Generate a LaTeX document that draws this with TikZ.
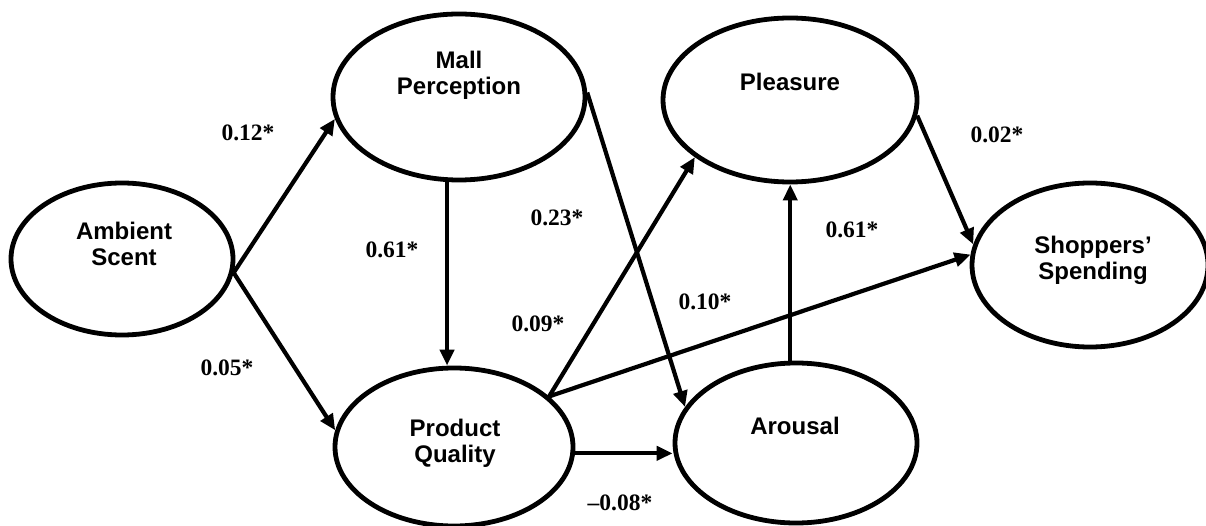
\documentclass[tikz,border=0pt]{standalone}
\usepackage{fontspec}
\setmainfont{Liberation Serif}
\newfontfamily\sansfont{Liberation Sans}
\usetikzlibrary{shapes.geometric,arrows.meta}

\begin{document}
\begin{tikzpicture}[
  x=1pt, y=-1pt,
  construct/.style={ellipse, draw, line width=4.8pt, inner sep=0pt},
  ctext/.style={font=\sansfont\bfseries\fontsize{24}{26}\selectfont, align=center},
  effect/.style={line width=4.2pt, -{Triangle[length=16pt,width=14pt]}},
  coef/.style={font=\bfseries\fontsize{23.5}{26}\selectfont}
]
\useasboundingbox (0,0) rectangle (1206,526);

% Constructs
\node[construct, minimum width=222pt, minimum height=152pt] (amb) at (122,259) {};
\node[construct, minimum width=252pt, minimum height=166pt] (mall) at (459,97) {};
\node[construct, minimum width=254pt, minimum height=164pt] (pleas) at (790,100) {};
\node[construct, minimum width=236pt, minimum height=164pt] (shop) at (1090,265) {};
\node[construct, minimum width=238pt, minimum height=158pt] (prod) at (454,447) {};
\node[construct, minimum width=242pt, minimum height=160pt] (arou) at (796,443) {};

% Construct names
\node[ctext] (amb-t) at (124,244) {Ambient\\Scent};
\node[ctext] (mall-t) at (459,75) {Mall\\Perception};
\node[ctext] (pleas-t) at (790,82) {Pleasure};
\node[ctext] (shop-t) at (1093,260) {Shoppers’\\Spending};
\node[ctext] (prod-t) at (455,443) {Product\\Quality};
\node[ctext] (arou-t) at (795,426) {Arousal};

% Paths
\draw[effect] (amb.-7) -- (mall.190);
\draw[effect] (amb.-7) -- (prod.172);
\draw[effect] (mall.262) -- (mall.262 |- prod.north);
\draw[effect] (mall.2) -- (arou.162);
\draw[effect] (prod.28) -- (pleas.211);
\draw[effect] (prod.28) -- (shop.175);
\draw[effect] (prod.-3) -- (prod.-3 -| arou.west);
\draw[effect] (arou.94) -- (arou.94 |- pleas.south);
\draw[effect] (pleas.-7) -- (shop.170);

% Coefficients
\node[coef] (c1) at (248,133) {0.12*};
\node[coef] (c2) at (227,368) {0.05*};
\node[coef] (c3) at (392,250) {0.61*};
\node[coef] (c4) at (557,218) {0.23*};
\node[coef] (c5) at (538,324) {0.09*};
\node[coef] (c6) at (705,302) {0.10*};
\node[coef] (c7) at (852,230) {0.61*};
\node[coef] (c8) at (997,135) {0.02*};
\node[coef] (c9) at (620,503) {–0.08*};

\end{tikzpicture}
\end{document}
